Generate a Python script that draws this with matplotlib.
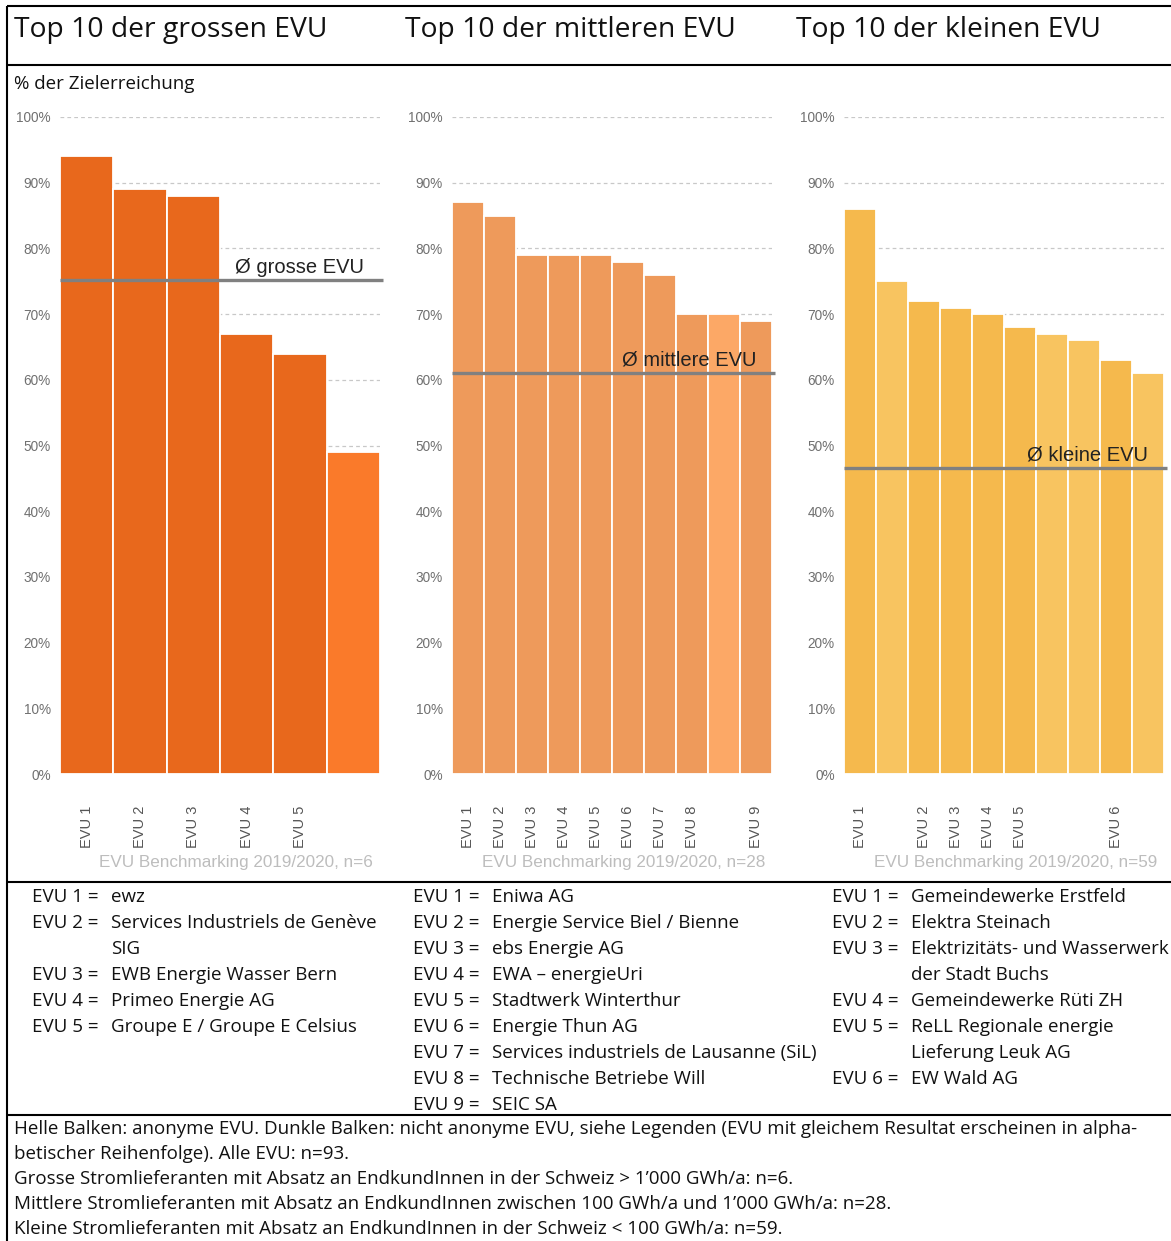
import matplotlib
matplotlib.use("Agg")
import matplotlib.pyplot as plt

W, H = 1171, 1241

# ---------------- data ----------------
titles = ["Top 10 der grossen EVU", "Top 10 der mittleren EVU", "Top 10 der kleinen EVU"]
values_gross = [94, 89, 88, 67, 64, 49]
dark_gross = [True, True, True, True, True, False]
values_mittel = [87, 85, 79, 79, 79, 78, 76, 70, 70, 69]
dark_mittel = [True, True, True, True, True, True, True, True, False, True]
values_klein = [86, 75, 72, 71, 70, 68, 67, 66, 63, 61]
dark_klein = [True, False, True, True, True, True, False, False, True, False]
avg_values = [75.2, 61.0, 46.6]
avg_labels = ["Ø grosse EVU", "Ø mittlere EVU", "Ø kleine EVU"]
sources = ["EVU Benchmarking 2019/2020, n=6", "EVU Benchmarking 2019/2020, n=28",
           "EVU Benchmarking 2019/2020, n=59"]
yticks = [0, 10, 20, 30, 40, 50, 60, 70, 80, 90, 100]
y_label = "% der Zielerreichung"

legend_gross = [("EVU 1 =", "ewz"), ("EVU 2 =", "Services Industriels de Genève"), ("", "SIG"),
                ("EVU 3 =", "EWB Energie Wasser Bern"), ("EVU 4 =", "Primeo Energie AG"),
                ("EVU 5 =", "Groupe E / Groupe E Celsius")]
legend_mittel = [("EVU 1 =", "Eniwa AG"), ("EVU 2 =", "Energie Service Biel / Bienne"),
                 ("EVU 3 =", "ebs Energie AG"), ("EVU 4 =", "EWA – energieUri"),
                 ("EVU 5 =", "Stadtwerk Winterthur"), ("EVU 6 =", "Energie Thun AG"),
                 ("EVU 7 =", "Services industriels de Lausanne (SiL)"),
                 ("EVU 8 =", "Technische Betriebe Will"), ("EVU 9 =", "SEIC SA")]
legend_klein = [("EVU 1 =", "Gemeindewerke Erstfeld"), ("EVU 2 =", "Elektra Steinach"),
                ("EVU 3 =", "Elektrizitäts- und Wasserwerk"), ("", "der Stadt Buchs"),
                ("EVU 4 =", "Gemeindewerke Rüti ZH"), ("EVU 5 =", "ReLL Regionale energie"),
                ("", "Lieferung Leuk AG"), ("EVU 6 =", "EW Wald AG")]
footnotes = [
    "Helle Balken: anonyme EVU. Dunkle Balken: nicht anonyme EVU, siehe Legenden (EVU mit gleichem Resultat erscheinen in alpha-",
    "betischer Reihenfolge). Alle EVU: n=93.",
    "Grosse Stromlieferanten mit Absatz an EndkundInnen in der Schweiz > 1’000 GWh/a: n=6.",
    "Mittlere Stromlieferanten mit Absatz an EndkundInnen zwischen 100 GWh/a und 1’000 GWh/a: n=28.",
    "Kleine Stromlieferanten mit Absatz an EndkundInnen in der Schweiz < 100 GWh/a: n=59.",
]

# ---------------- style ----------------
colors = [("#E8681C", "#FA7A2A"), ("#EE9A5B", "#FCA866"), ("#F5B94D", "#F8C460")]
panels = [(values_gross, dark_gross), (values_mittel, dark_mittel), (values_klein, dark_klein)]
panel_x = [60, 452, 844]
panel_w = 320
y0px, y100px = 774, 117
UI = "Open Sans"
AR = "Liberation Sans"
UIFS = 13.5

fig = plt.figure(figsize=(W / 100, H / 100), dpi=100)
fig.patch.set_facecolor("white")

over = fig.add_axes([0, 0, 1, 1], zorder=5)
over.set_xlim(0, W)
over.set_ylim(H, 0)
over.axis("off")
over.patch.set_alpha(0)

def rect(x, ytop, w, ybot):
    return [x / W, 1 - ybot / H, w / W, (ybot - ytop) / H]

for i, (vals, dark) in enumerate(panels):
    ax = fig.add_axes(rect(panel_x[i], y100px, panel_w, y0px), zorder=1)
    n = len(vals)
    xs = list(range(n))
    cols = [colors[i][0] if d else colors[i][1] for d in dark]
    ax.bar(xs, vals, width=1.0, color=cols, edgecolor="white", linewidth=1.3, zorder=2)
    ax.set_xlim(-0.5, n - 0.5)
    ax.set_ylim(0, 100)
    for s in ax.spines.values():
        s.set_visible(False)
    ax.set_yticks(yticks)
    ax.set_yticklabels([f"{t}%" for t in yticks], fontsize=9.8, color="#707070", family=AR)
    ax.tick_params(axis="y", length=0, pad=6.5)
    for t in yticks:
        ax.axhline(t, color="#C8C8C8" if t else "#B8C4D0", lw=0.9, ls=(0, (3, 2.5)), zorder=1)
    # x labels for named EVUs
    tick_pos = [k for k in xs if dark[k]]
    ax.set_xticks(tick_pos)
    ax.set_xticklabels([f"EVU {j + 1}" for j in range(len(tick_pos))], rotation=90,
                       fontsize=10.5, color="#555555", family=AR)
    ax.tick_params(axis="x", length=0, pad=22.5)
    # average line
    ax.plot([-0.5, n - 0.5 + 0.06 * n / 6], [avg_values[i]] * 2, color="#808080", lw=2.4,
            zorder=3, clip_on=False, solid_capstyle="butt")
    ax.text(n - 0.5 - 0.3 * n / 6, avg_values[i] + 0.5, avg_labels[i], ha="right", va="bottom",
            fontsize=14.5, color="#222222", family=AR, zorder=4)
    # source
    over.text(panel_x[i] + 313, 862, sources[i], ha="right", va="center", fontsize=12.3,
              color="#BDBDBD", family=AR)
    # title
    over.text([14, 405, 796][i], 30, titles[i], ha="left", va="center", fontsize=20.3,
              color="#111111", family=UI)

over.text(14, 84, y_label, ha="left", va="center", fontsize=UIFS, color="#111111", family=UI)

# frame lines
lw = 1.5
for y in [6, 65, 882, 1115]:
    over.plot([7, W], [y, y], color="black", lw=lw, solid_capstyle="butt")
over.plot([7, 7], [6, H], color="black", lw=lw, solid_capstyle="butt")

# legends
for (x_lab, x_name), leg in zip([(32, 111), (413, 492), (832, 911)],
                                [legend_gross, legend_mittel, legend_klein]):
    for k, (lab, name) in enumerate(leg):
        y = 897 + 26 * k
        if lab:
            over.text(x_lab, y, lab, ha="left", va="center", fontsize=UIFS, color="#111111", family=UI)
        over.text(x_name, y, name, ha="left", va="center", fontsize=UIFS, color="#111111", family=UI)

for k, line in enumerate(footnotes):
    over.text(14, 1129 + 25 * k, line, ha="left", va="center", fontsize=UIFS, color="#111111", family=UI)

fig.savefig("out.png", dpi=100)
